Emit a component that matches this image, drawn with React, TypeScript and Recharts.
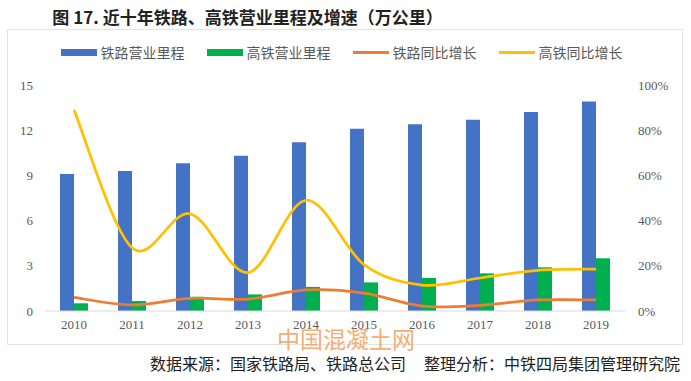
import { ComposedChart, Bar, Line, XAxis, YAxis, Legend } from "recharts";

const years = ["2010", "2011", "2012", "2013", "2014", "2015", "2016", "2017", "2018", "2019"];
const railKm = [9.1, 9.3, 9.8, 10.3, 11.2, 12.1, 12.4, 12.7, 13.2, 13.9];
const hsrKm = [0.51, 0.66, 0.94, 1.1, 1.6, 1.9, 2.2, 2.5, 2.9, 3.5];
const railGrowth = [6, 2.7, 5.6, 5.3, 9.3, 7.9, 2.2, 2.5, 4.9, 4.9];
const hsrGrowth = [89, 28, 43, 17, 49, 20.5, 11.5, 14.6, 18, 18.5];
const leftTicks = [0, 3, 6, 9, 12, 15];
const rightTicks = [0, 20, 40, 60, 80, 100];

const data = years.map((y, i) => ({
  year: y,
  rail: railKm[i],
  hsr: hsrKm[i],
  railG: railGrowth[i],
  hsrG: hsrGrowth[i],
}));

const legendItems = [
  { name: "铁路营业里程", color: "#4472C4", kind: "bar" },
  { name: "高铁营业里程", color: "#00B050", kind: "bar" },
  { name: "铁路同比增长", color: "#ED7D31", kind: "line" },
  { name: "高铁同比增长", color: "#FFC000", kind: "line" },
];

// excel-like smoothed line (catmull-rom through the points)
const smooth = (context: any) => {
  let pts: number[][] = [];
  return {
    areaStart() {},
    areaEnd() {},
    lineStart() {
      pts = [];
    },
    point(x: number, y: number) {
      pts.push([+x, +y]);
    },
    lineEnd() {
      const n = pts.length;
      if (!n) return;
      context.moveTo(pts[0][0], pts[0][1]);
      for (let i = 0; i < n - 1; i++) {
        const p0 = pts[i - 1] || pts[i];
        const p1 = pts[i];
        const p2 = pts[i + 1];
        const p3 = pts[i + 2] || p2;
        context.bezierCurveTo(
          p1[0] + (p2[0] - p0[0]) / 6,
          p1[1] + (p2[1] - p0[1]) / 6,
          p2[0] - (p3[0] - p1[0]) / 6,
          p2[1] - (p3[1] - p1[1]) / 6,
          p2[0],
          p2[1]
        );
      }
    },
  };
};

const tickStyle = { fontFamily: "'Liberation Serif', serif", fontSize: 13, fill: "#595959" };

const renderLegend = () => (
  <div
    style={{
      height: 42,
      display: "flex",
      justifyContent: "center",
      alignItems: "flex-start",
      fontFamily: "'Noto Sans CJK SC', sans-serif",
      fontSize: 14,
      color: "#595959",
    }}
  >
    {legendItems.map((it) => (
      <div key={it.name} style={{ display: "flex", alignItems: "center", margin: "0 11px", height: 18 }}>
        <span
          style={{
            display: "inline-block",
            width: 36,
            height: it.kind === "bar" ? 7 : 3,
            background: it.color,
            marginRight: 4,
          }}
        />
        <span>{it.name}</span>
      </div>
    ))}
  </div>
);

const App = () => {
  return (
    <div style={{ position: "absolute", left: 0, top: 0, width: 691, height: 381, background: "#fff" }}>
      <div
        style={{
          position: "absolute",
          left: 0,
          top: 4,
          width: 495,
          textAlign: "center",
          fontFamily: "'Noto Sans CJK SC', sans-serif",
          fontWeight: 700,
          fontSize: 17,
          color: "#222",
        }}
      >
        图 17. 近十年铁路、高铁营业里程及增速（万公里）
      </div>
      <div
        style={{
          position: "absolute",
          left: 7,
          top: 29,
          width: 676,
          height: 316,
          border: "1px solid #e3e3e3",
          boxSizing: "border-box",
        }}
      />
      <div style={{ position: "absolute", left: 0, top: 0 }}>
        <ComposedChart
          width={691}
          height={381}
          data={data}
          barSize={14}
          barGap={0}
          margin={{ top: 43, right: 16, bottom: 40, left: 8 }}
        >
          <XAxis
            dataKey="year"
            tickLine={false}
            axisLine={{ stroke: "#d9d9d9" }}
            tick={tickStyle}
            tickSize={0}
            tickMargin={9}
          />
          <YAxis
            yAxisId="l"
            width={37}
            domain={[0, 15]}
            ticks={leftTicks}
            axisLine={false}
            tickLine={false}
            tickSize={0}
            tickMargin={12}
            tick={tickStyle}
          />
          <YAxis
            yAxisId="r"
            orientation="right"
            width={50}
            domain={[0, 100]}
            ticks={rightTicks}
            axisLine={false}
            tickLine={false}
            tickSize={0}
            tickMargin={13}
            tick={{ ...tickStyle, textAnchor: "start" }}
            tickFormatter={(v) => `${v}%`}
          />
          <Legend verticalAlign="top" content={renderLegend} />
          <Bar yAxisId="l" dataKey="rail" name="铁路营业里程" fill="#4472C4" isAnimationActive={false} />
          <Bar yAxisId="l" dataKey="hsr" name="高铁营业里程" fill="#00B050" isAnimationActive={false} />
          <Line
            yAxisId="r"
            dataKey="railG"
            name="铁路同比增长"
            type={smooth as any}
            stroke="#ED7D31"
            strokeWidth={2.75}
            dot={false}
            activeDot={false}
            isAnimationActive={false}
          />
          <Line
            yAxisId="r"
            dataKey="hsrG"
            name="高铁同比增长"
            type={smooth as any}
            stroke="#FFC000"
            strokeWidth={2.75}
            dot={false}
            activeDot={false}
            isAnimationActive={false}
          />
        </ComposedChart>
      </div>
      <div
        style={{
          position: "absolute",
          left: 277,
          top: 324,
          fontFamily: "'Noto Sans CJK SC', sans-serif",
          fontSize: 23,
          color: "#F5A05A",
          opacity: 0.85,
          lineHeight: "28px",
        }}
      >
        中国混凝土网
      </div>
      <div
        style={{
          position: "absolute",
          left: 150,
          top: 353,
          fontFamily: "'Noto Sans CJK SC', sans-serif",
          fontSize: 16,
          color: "#222",
          whiteSpace: "pre",
          lineHeight: "20px",
        }}
      >
        <span>数据来源：国家铁路局、铁路总公司</span>
        <span style={{ marginLeft: 18 }}>整理分析：中铁四局集团管理研究院</span>
      </div>
    </div>
  );
};

export default App;
